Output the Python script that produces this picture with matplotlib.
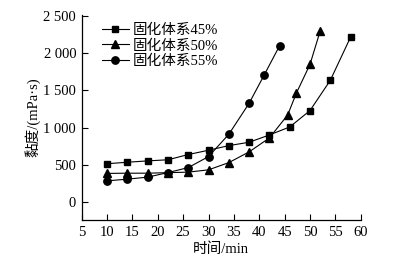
import matplotlib
matplotlib.use("Agg")
import matplotlib.pyplot as plt
from matplotlib.ticker import FuncFormatter

plt.rcParams['font.family'] = ['Liberation Serif', 'Noto Sans CJK SC']
plt.rcParams['axes.unicode_minus'] = False

labels = ['固化体系45%', '固化体系50%', '固化体系55%']
markers = ['s', '^', 'o']

x45 = [10, 14, 18, 22, 26, 30, 34, 38, 42, 46, 50, 54, 58]
y45 = [515, 535, 553, 568, 638, 696, 758, 803, 901, 1008, 1228, 1634, 2214]

x50 = [10, 14, 18, 22, 26, 30, 34, 38, 42, 45.6, 47.3, 50, 52]
y50 = [385, 388, 388, 395, 402, 433, 530, 674, 861, 1169, 1460, 1848, 2294]

x55 = [10, 14, 18, 22, 26, 30, 34, 38, 41, 44]
y55 = [285, 308, 335, 396, 463, 611, 910, 1326, 1709, 2097]

xticks = [5, 10, 15, 20, 25, 30, 35, 40, 45, 50, 55, 60]
yticks = [0, 500, 1000, 1500, 2000, 2500]

fig = plt.figure(figsize=(4.05, 2.64), dpi=100)
ax = fig.add_axes([0.2017, 0.1667, 0.689, 0.7763])

series = [(x45, y45), (x50, y50), (x55, y55)]
ms = [4.8, 5.5, 5.3]
for (xs, ys), m, lab, s in zip(series, markers, labels, ms):
    ax.plot(xs, ys, color='black', lw=0.8, marker=m, markersize=s, label=lab)

ax.set_xlim(5, 60)
ax.set_ylim(-240, 2510)
ax.set_xticks(xticks)
ax.set_yticks(yticks)

def yfmt(v, pos):
    v = int(round(v))
    if v >= 1000:
        return f"{v // 1000} {v % 1000:03d}"
    return str(v)

ax.yaxis.set_major_formatter(FuncFormatter(yfmt))
for sp in ['top', 'right']:
    ax.spines[sp].set_visible(False)
for sp in ['left', 'bottom']:
    ax.spines[sp].set_linewidth(0.9)
ax.tick_params(direction='in', length=4, width=0.8, labelsize=10.5, pad=4, colors='black')

ax.set_xlabel('时间/min', fontsize=10.5, labelpad=3)
ax.set_ylabel('黏度/(mPa·s)', fontsize=10.5, labelpad=2)

leg = ax.legend(loc='upper left', bbox_to_anchor=(0.04, 1.0), frameon=False,
                fontsize=10.5, handlelength=1.9, handletextpad=0.2,
                labelspacing=0.15, borderaxespad=0.2)

fig.savefig('out.png', dpi=100)
